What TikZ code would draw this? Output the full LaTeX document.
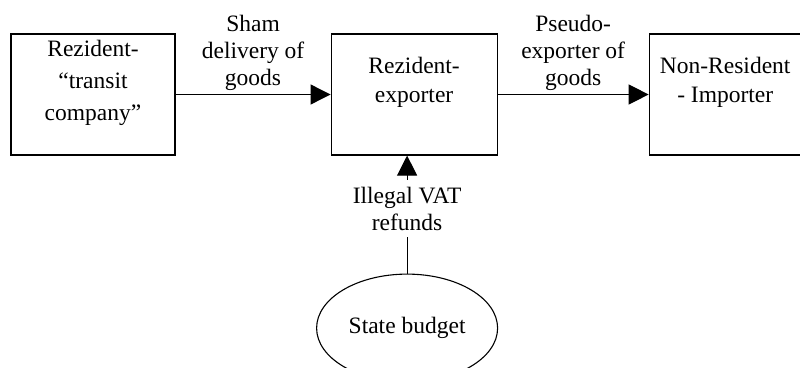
\documentclass[tikz,border=0pt]{standalone}
\usepackage{fontspec}
\setmainfont{Liberation Serif}
\usetikzlibrary{shapes,arrows.meta,positioning}
\tikzset{block/.style = {draw, rectangle, minimum height = 121pt},
         oval/.style = {draw, ellipse, minimum width = 181pt, minimum height = 108pt},
         txt/.style = {align = center, font = \fontsize{23.5}{29}\selectfont},
         lbl/.style = {align = center, font = \fontsize{23.5}{27}\selectfont},
}

\begin{document}
\begin{tikzpicture}[line width = 1.1pt, >={Triangle[length=20pt, width=20pt]}]
  \clip (0,0) rectangle (800pt,-367pt);

  \node[block, minimum width = 164pt, label = {[txt, yshift = 12pt]center:Rezident-\\[3pt]``transit\\[3pt]company''}] (transit) at (93pt,-94.5pt) {};
  \node[block, minimum width = 166pt, right = 155pt of transit, label = {[txt, yshift = 12pt]center:Rezident-\\exporter}] (exporter) {};
  \node[block, minimum width = 170pt, right = 151pt of exporter, label = {[txt, yshift = 12pt, xshift = -9pt]center:Non-Resident\\- Importer}] (importer) {};
  \node[oval, txt, below = 118pt of exporter, xshift = -7pt] (budget) {State budget};

  \draw[->] (transit) -- node[lbl, above] {Sham\\delivery of\\goods} (exporter);
  \draw[->] (exporter) -- node[lbl, above] {Pseudo-\\exporter of\\goods} (importer);
  \draw[->] (budget) -- node[lbl, pos = 0.55, fill = white, inner ysep = 7pt] {Illegal VAT\\refunds} (budget |- exporter.south);

\end{tikzpicture}
\end{document}
